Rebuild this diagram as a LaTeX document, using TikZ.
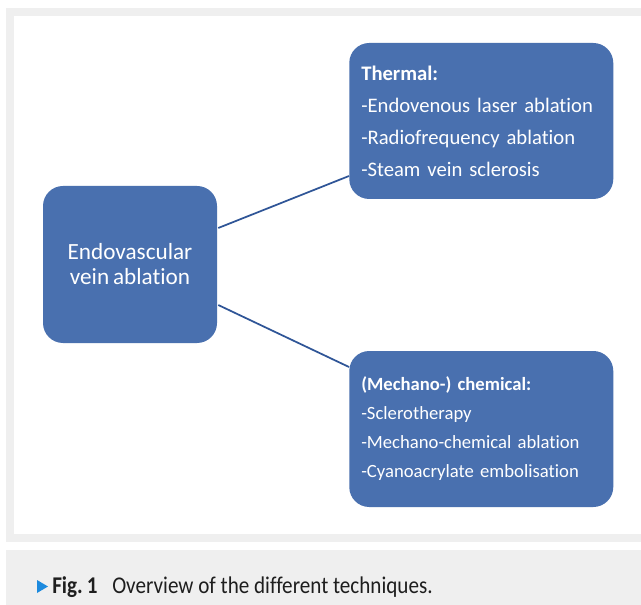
\documentclass[tikz,border=0pt]{standalone}
\usepackage{fontspec}
\setmainfont{Carlito}[Ligatures=NoCommon,WordSpace=0.75]
\newfontfamily\capfont[FakeStretch=0.88,Ligatures=NoCommon]{Carlito}
\usetikzlibrary{calc}
\definecolor{boxblue}{RGB}{73,112,175}
\definecolor{lineblue}{RGB}{47,85,151}
\definecolor{framegray}{RGB}{239,239,239}
\definecolor{tipblue}{RGB}{28,138,222}
\definecolor{captext}{RGB}{30,30,30}

\tikzset{
  mainbox/.style={fill=boxblue, rounded corners=15pt, text=white, inner sep=0pt,
    minimum width=130.5pt, minimum height=117.75pt, align=center,
    font=\fontsize{17.4}{18.75}\selectfont},
  techbox/.style={fill=boxblue, rounded corners=15pt, text=white, inner sep=9pt,
    text width=180pt, minimum height=117pt, align=left, anchor=west},
  captag/.style={anchor=base west, inner sep=0pt, text=captext,
    font=\capfont\fontsize{18}{20}\selectfont},
  link/.style={lineblue, line width=1.3pt}
}

\begin{document}
\begin{tikzpicture}[x=0.75pt,y=-0.75pt]

%---------------------------------------
% Canvas and frame
%---------------------------------------
\useasboundingbox (0,0) rectangle (641,605);
\fill[framegray] (6,8) rectangle (641,542);
\fill[white] (14,16) rectangle (641,534);
\fill[framegray] (6,550) rectangle (641,605);

%---------------------------------------
% Boxes
%---------------------------------------
\node[mainbox] (main) at (130,264.5) {Endovascular\\vein ablation};

\node[techbox, font=\fontsize{15.5}{24}\selectfont] (thermal) at (349,121)
  {\textbf{Thermal:}\\-Endovenous laser ablation\\-Radiofrequency ablation\\-Steam vein sclerosis};

\node[techbox, font=\fontsize{14}{21.75}\selectfont] (chemical) at (349,429)
  {\textbf{(Mechano-) chemical:}\\-Sclerotherapy\\-Mechano-chemical ablation\\-Cyanoacrylate embolisation};

% Connectors
\draw[link] ($(main.east)+(1,-36.5)$) -- ($(thermal.west)+(0,55)$);
\draw[link] ($(main.east)+(1,40.5)$) -- ($(chemical.west)+(0,-62)$);

%---------------------------------------
% Caption
%---------------------------------------
\fill[tipblue] (37,580) -- (48,586.5) -- (37,593) -- cycle;
\node[captag] (figtag) at (52,593) {\textbf{Fig.\,1}};
\node[captag] (captxt) at (112,593) {Overview of the different techniques.};

\end{tikzpicture}
\end{document}
